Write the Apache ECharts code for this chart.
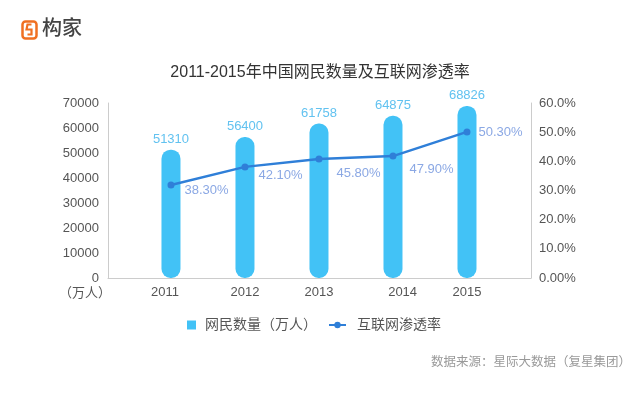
<!DOCTYPE html>
<html>
<head>
<meta charset="utf-8">
<script src="https://cdn.jsdelivr.net/npm/echarts@6/dist/echarts.min.js"></script>
<style>html,body{margin:0;padding:0;background:#fff;}#c{width:640px;height:395px;}</style>
</head>
<body>
<div id="c"></div>
<script>
// ---- data ----
const years = ['2011', '2012', '2013', '2014', '2015'];
const netizens = [51310, 56400, 61758, 64875, 68826];               // 网民数量（万人）
const penetrationLabels = ['38.30%', '42.10%', '45.80%', '47.90%', '50.30%'];
const penetrationPlotted = [31.9, 38.1, 40.8, 41.8, 50.1];           // line height as drawn (%)
const leftMax = 70000, leftStep = 10000;
const rightTickLabels = ['0.00%', '10.0%', '20.0%', '30.0%', '40.0%', '50.0%', '60.0%'];
const titleText = '2011-2015年中国网民数量及互联网渗透率';
const sourceText = '数据来源：星际大数据（复星集团）';

// ---- styling config ----
const FONT = "'Liberation Sans', 'Noto Sans CJK SC', sans-serif";
const lineLabelOffsets = [[5, 5], [5, 9], [9, 14], [8, 13], [3, 1]];
const xLabelPositions = [-0.08, 1, 2, 3.13, 4];

const chart = echarts.init(document.getElementById('c'), null, {renderer: 'canvas'});
const option = {
  backgroundColor: '#fff',
  animation: false,
  textStyle: {fontFamily: FONT},
  title: {
    text: titleText, left: 'center', top: 65, padding: 0,
    textStyle: {fontSize: 16, fontWeight: 'normal', color: '#333', fontFamily: FONT}
  },
  legend: [
    {
      data: [{name: '网民数量（万人）', icon: 'rect'}],
      left: 182, top: 313, itemWidth: 9, itemHeight: 9,
      textStyle: {fontSize: 14, color: '#555', padding: [0, 0, 0, 4], fontFamily: FONT}
    },
    {
      data: ['互联网渗透率'],
      left: 323, top: 313, itemWidth: 17, itemHeight: 8,
      textStyle: {fontSize: 14, color: '#555', padding: [0, 0, 0, 6], fontFamily: FONT}
    }
  ],
  grid: {left: 108, right: 109, top: 103, bottom: 117, containLabel: false},
  xAxis: {
    type: 'value', min: -0.851, max: 4.865,
    axisLine: {show: true, onZero: false, lineStyle: {color: '#ccc', width: 1}},
    axisTick: {show: false},
    splitLine: {show: false},
    axisLabel: {
      customValues: xLabelPositions,
      formatter: function (v) { return years[Math.round(v)]; },
      color: '#555', fontSize: 13, margin: 8, fontFamily: FONT
    }
  },
  yAxis: [
    {
      type: 'value', min: 0, max: leftMax, interval: leftStep,
      name: '（万人）', nameLocation: 'start', nameGap: 9,
      nameTextStyle: {color: '#555', fontSize: 13, align: 'right', verticalAlign: 'top', padding: [0, -3, 0, 0], fontFamily: FONT},
      axisLine: {show: true, onZero: false, lineStyle: {color: '#ccc', width: 1}},
      axisTick: {show: false},
      splitLine: {show: false},
      axisLabel: {color: '#555', fontSize: 13, margin: 9, fontFamily: FONT,
        formatter: function (v) { return String(v); }}
    },
    {
      type: 'value', min: 0, max: 60, interval: 10, position: 'right',
      axisLine: {show: true, onZero: false, lineStyle: {color: '#ccc', width: 1}},
      axisTick: {show: false},
      splitLine: {show: false},
      axisLabel: {
        color: '#555', fontSize: 13, margin: 8, fontFamily: FONT,
        formatter: function (v) { return rightTickLabels[Math.round(v / 10)]; }
      }
    }
  ],
  series: [
    {
      name: '网民数量（万人）', type: 'bar', xAxisIndex: 0, yAxisIndex: 0,
      barWidth: 19,
      itemStyle: {color: '#42c2f6', borderRadius: 9},
      label: {show: true, position: 'top', distance: 4, color: '#62c2f0', fontSize: 13, fontFamily: FONT},
      data: netizens.map(function (v, i) { return [i, v]; })
    },
    {
      name: '互联网渗透率', type: 'line', xAxisIndex: 0, yAxisIndex: 1,
      symbol: 'circle', symbolSize: 7,
      lineStyle: {color: '#2f7fd8', width: 2.5},
      itemStyle: {color: '#2f7fd8'},
      label: {
        show: true, position: 'right', distance: 5, color: '#8ba8e4', fontSize: 13, fontFamily: FONT,
        formatter: function (p) { return penetrationLabels[p.dataIndex]; }
      },
      data: penetrationPlotted.map(function (v, i) {
        return {value: [i, v], label: {offset: lineLabelOffsets[i]}};
      }),
      z: 3
    }
  ],
  graphic: [
    {
      type: 'group', left: 20, top: 19,
      children: [
        {type: 'rect', shape: {x: 1, y: 1, width: 14, height: 17, r: 3}, style: {fill: 'none', stroke: '#f07022', lineWidth: 2.5}},
        {type: 'polyline', shape: {points: [[10, 4], [6, 4], [5, 9], [10, 9], [10, 14], [6, 14]]}, style: {fill: 'none', stroke: '#f07022', lineWidth: 2.2}}
      ]
    },
    {
      type: 'text', left: 42, top: 17,
      style: {text: '构家', fill: '#444', font: "500 20px 'Noto Sans CJK SC', sans-serif"}
    },
    {
      type: 'text', right: 9, top: 355,
      style: {text: sourceText, fill: '#999', font: "12.5px 'Noto Sans CJK SC', sans-serif"}
    }
  ]
};
chart.setOption(option);
</script>
</body>
</html>
